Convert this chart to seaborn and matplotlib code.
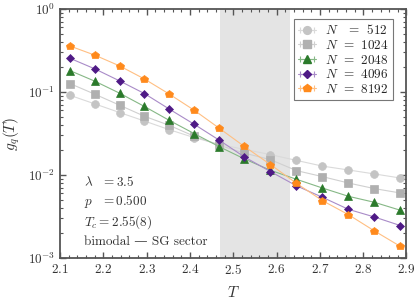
import numpy as np
import matplotlib
matplotlib.use("Agg")
import matplotlib.pyplot as plt
import seaborn as sns
from matplotlib.lines import Line2D
from matplotlib.collections import LineCollection
from matplotlib.container import ErrorbarContainer
from matplotlib.ticker import MultipleLocator, LogLocator, NullFormatter

# ---- data ----
T = [2.123, 2.181, 2.238, 2.295, 2.352, 2.410, 2.468, 2.525, 2.586, 2.646, 2.706, 2.766, 2.826, 2.886]
sizes = [512, 1024, 2048, 4096, 8192]
g_512 = [0.0912, 0.0717, 0.0565, 0.0447, 0.0352, 0.0282, 0.0234, 0.0204, 0.0176, 0.0150, 0.0128, 0.0115, 0.0103, 0.0092]
g_1024 = [0.1263, 0.0938, 0.0692, 0.0510, 0.0397, 0.0293, 0.0228, 0.0184, 0.0153, 0.0113, 0.00956, 0.00801, 0.00686, 0.00607]
g_2048 = [0.181, 0.1345, 0.0965, 0.0669, 0.0456, 0.0315, 0.0219, 0.0157, 0.0114, 0.00888, 0.00697, 0.00554, 0.00469, 0.00376]
g_4096 = [0.2547, 0.1893, 0.1357, 0.0957, 0.0624, 0.0408, 0.0262, 0.0166, 0.0110, 0.00741, 0.00539, 0.00386, 0.00312, 0.00246]
g_8192 = [0.358, 0.277, 0.2057, 0.1434, 0.0946, 0.0602, 0.0365, 0.0222, 0.01335, 0.00794, 0.00491, 0.00333, 0.00212, 0.00138]
series = [g_512, g_1024, g_2048, g_4096, g_8192]
legend_labels = [r"$N\ \ \ \ \,= 512$", r"$N\;\, =\;\, 1024$", r"$N\;\, =\;\, 2048$", r"$N\;\, =\;\, 4096$", r"$N\;\, =\;\, 8192$"]
legend_labels[0] = r"$N\;\,\enspace =\;\, 512$"
Tc, dTc = 2.55, 0.08
info_lines = [r"$\lambda\ \ \,= 3.5$", r"$p\ \ \,= 0.500$", r"$T_c = 2.55(8)$", "bimodal \u2014 SG sector"]

# ---- style ----
sns.set_style("ticks")
plt.rcParams["font.family"] = ["cmr10", "DejaVu Serif"]
plt.rcParams["mathtext.fontset"] = "cm"
plt.rcParams["axes.formatter.use_mathtext"] = True
plt.rcParams["axes.unicode_minus"] = False

colors = ["#c4c4c4", "#b0b0b0", "#2b7a2b", "#4f1a86", "#ff8a1c"]
line_colors = ["#dadada", "#d0d0d0", "#86b886", "#a98bc8", "#ffbf82"]
markers = ["o", "s", "^", "D", "p"]
msizes = [5.6, 5.2, 5.6, 4.4, 6.2]

fig, ax = plt.subplots(figsize=(4.15, 2.99), dpi=100)
fig.subplots_adjust(left=0.1446, right=0.9795, top=0.970, bottom=0.137)

ax.axvspan(Tc - dTc, Tc + dTc, color="#e4e4e4", lw=0, zorder=0)

handles = []
for vals, c, lc, m, ms, lab in zip(series, colors, line_colors, markers, msizes, legend_labels):
    sns.lineplot(x=T, y=vals, ax=ax, color=lc, lw=0.8, marker=m, markersize=ms,
                 markerfacecolor=c, markeredgecolor=c, markeredgewidth=0.5, zorder=3)
    pl = Line2D([], [], color=lc, lw=0.8, marker=m, markersize=ms, markerfacecolor=c, markeredgecolor=c)
    cap = Line2D([], [], color=lc, markersize=4.5, markeredgewidth=0.8)
    bar = LineCollection([], colors=[lc], linewidths=0.8)
    handles.append(ErrorbarContainer((pl, (cap, cap), (bar,)), has_xerr=True, has_yerr=False, label=lab))

ax.set_yscale("log")
ax.set_xlim(2.1, 2.9)
ax.set_ylim(1e-3, 1.0)
ax.xaxis.set_major_locator(MultipleLocator(0.1))
ax.xaxis.set_minor_locator(MultipleLocator(0.02))
ax.yaxis.set_major_locator(LogLocator(base=10, numticks=10))
ax.yaxis.set_minor_locator(LogLocator(base=10, subs=np.arange(2, 10), numticks=20))
ax.yaxis.set_minor_formatter(NullFormatter())

for s in ax.spines.values():
    s.set_color("#555555")
    s.set_linewidth(1.3)
ax.tick_params(which="both", direction="in", top=True, right=True, color="#555555", labelsize=9.5, labelcolor="#333333")
ax.tick_params(which="major", length=4, width=1.0)
ax.tick_params(which="minor", length=2, width=0.8)

ax.set_xlabel(r"$T$", fontsize=11, labelpad=6, color="#333333")
ax.set_ylabel(r"$g_q(T)$", fontsize=11, labelpad=4, color="#333333")

leg = ax.legend(handles=handles, labels=legend_labels, loc="upper right", fontsize=9.5,
                frameon=True, fancybox=False, framealpha=1, edgecolor="#777777",
                handlelength=1.4, handletextpad=0.7, borderpad=0.3, labelspacing=0.12,
                borderaxespad=0, bbox_to_anchor=(0.962, 0.958))
leg.get_frame().set_linewidth(0.8)

for i, txt in enumerate(info_lines):
    ax.text(0.068, 0.305 - i * 0.08, txt, transform=ax.transAxes, fontsize=9.5,
            color="#333333", va="center", ha="left")

fig.savefig("out.png", dpi=100)
